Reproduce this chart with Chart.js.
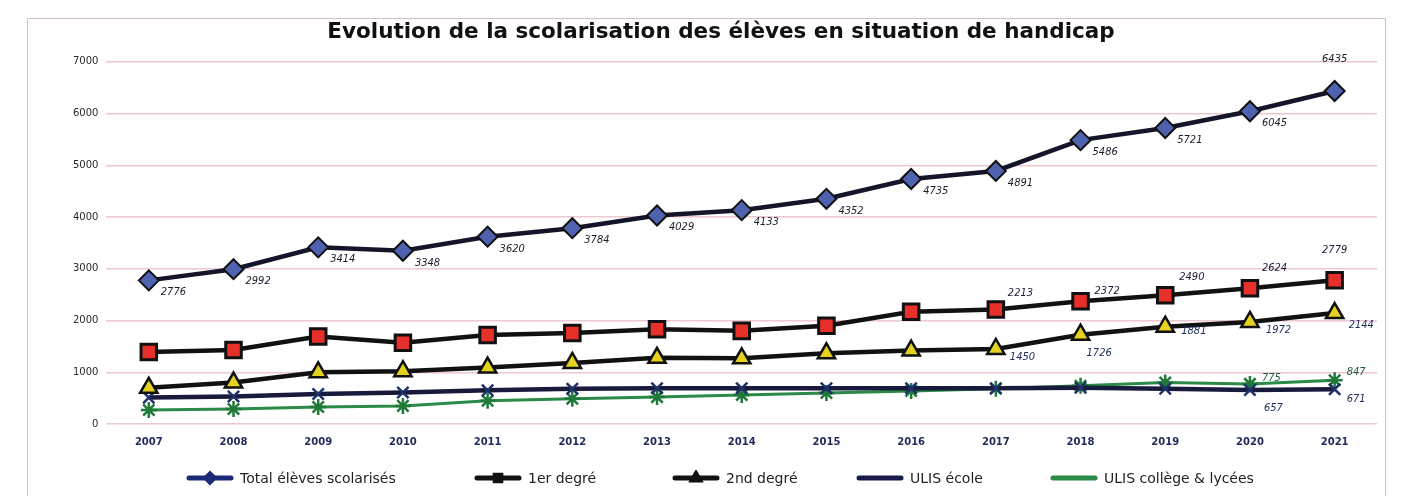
<!DOCTYPE html>
<html lang="fr">
<head>
<meta charset="utf-8">
<script src="https://cdn.jsdelivr.net/npm/chart.js@4/dist/chart.umd.min.js"></script>
<style>
  html, body { margin: 0; padding: 0; background: #fff; }
  #cadre { position: absolute; left: 27px; top: 18px; width: 1357px; height: 500px; border: 1px solid #d2c2c8; pointer-events: none; }
  #zone { position: absolute; left: 0; top: 0; width: 1405px; height: 496px; }
  #legende { position: absolute; left: 0; top: 470px; width: 1405px; height: 18px; font: 14px "DejaVu Sans", sans-serif; color: #222; }
  #legende .item { position: absolute; top: 0; display: flex; align-items: center; white-space: nowrap; }
  #legende canvas { margin-right: 6px; }
</style>
</head>
<body>
<div id="zone"><canvas id="chartScolarisation"></canvas></div>
<div id="legende"></div>
<div id="cadre"></div>
<script>
// ── Données ────
const ANNEES = ['2007', '2008', '2009', '2010', '2011', '2012', '2013', '2014', '2015', '2016', '2017', '2018', '2019', '2020', '2021'];
const TOTAL = [2776, 2992, 3414, 3348, 3620, 3784, 4029, 4133, 4352, 4735, 4891, 5486, 5721, 6045, 6435];
const PREMIER_DEGRE = [1390, 1430, 1690, 1570, 1720, 1760, 1830, 1800, 1900, 2170, 2213, 2372, 2490, 2624, 2779];
const SECOND_DEGRE = [700, 800, 1000, 1020, 1090, 1180, 1280, 1270, 1365, 1420, 1450, 1726, 1881, 1972, 2144];
const ULIS_ECOLE = [510, 530, 580, 610, 650, 680, 690, 690, 690, 690, 690, 700, 680, 657, 671];
const ULIS_COLLEGE = [270, 290, 330, 350, 450, 490, 520, 560, 600, 640, 680, 740, 800, 775, 847];
const GRADUATIONS = [0, 1000, 2000, 3000, 4000, 5000, 6000, 7000];

const TITRE = 'Evolution de la scolarisation des élèves en situation de handicap';

// ── Icônes de légende (trait + marqueur) ────
function icone(trait, fond, bord, style) {
    const c = document.createElement('canvas');
    c.width = 48; c.height = 16;
    const g = c.getContext('2d');
    g.strokeStyle = trait;
    g.lineWidth = 5;
    g.lineCap = 'round';
    g.beginPath(); g.moveTo(3, 8); g.lineTo(45, 8); g.stroke();
    if (style) {
        g.fillStyle = fond;
        g.strokeStyle = bord;
        Chart.helpers.drawPoint(g, { pointStyle: style, radius: 4, borderWidth: 1.5 }, 24, 8);
    }
    return c;
}

// ── Étiquettes de valeurs ────
const etiquettes = {
    id: 'etiquettes',
    afterDatasetsDraw(chart) {
        const ctx = chart.ctx;
        chart.data.datasets.forEach((ds, i) => {
            const e = ds.etiquettes;
            if (!e) return;
            const meta = chart.getDatasetMeta(i);
            ctx.save();
            ctx.font = 'italic 11px "DejaVu Sans Condensed", "DejaVu Sans", sans-serif';
            ctx.fillStyle = e.couleur;
            ctx.textBaseline = 'middle';
            e.points.forEach(p => {
                const pt = meta.data[p.i];
                ctx.textAlign = p.align || 'left';
                ctx.fillText(ds.data[p.i], pt.x + p.dx, pt.y + p.dy);
            });
            ctx.restore();
        });
    }
};

const TOUS = ANNEES.map((a, i) => ({ i, dx: 12, dy: 12 }));
TOUS[TOUS.length - 1] = { i: ANNEES.length - 1, dx: 0, dy: -32, align: 'center' };

const series = [
    {
        label: 'Total élèves scolarisés',
        data: TOTAL,
        borderColor: '#15152a',
        borderWidth: 4.5,
        pointStyle: 'rectRot',
        pointRadius: 10,
        pointBackgroundColor: '#4f62b0',
        pointBorderColor: '#111',
        pointBorderWidth: 2,
        legendIcone: icone('#1c2a78', '#4f62b0', '#1c2a78', 'rectRot'),
        legendX: 186,
        etiquettes: { couleur: '#1a1a2a', points: TOUS }
    },
    {
        label: '1er degré',
        data: PREMIER_DEGRE,
        borderColor: '#111',
        borderWidth: 4.5,
        pointStyle: 'rect',
        pointRadius: 11,
        pointBackgroundColor: '#e8302a',
        pointBorderColor: '#111',
        pointBorderWidth: 3,
        legendIcone: icone('#111', '#e8302a', '#111', 'rect'),
        legendX: 474,
        etiquettes: {
            couleur: '#1a1a3a',
            points: [
                { i: 10, dx: 12, dy: -16 },
                { i: 11, dx: 14, dy: -10 },
                { i: 12, dx: 14, dy: -18 },
                { i: 13, dx: 12, dy: -20 },
                { i: 14, dx: 0, dy: -30, align: 'center' }
            ]
        }
    },
    {
        label: '2nd degré',
        data: SECOND_DEGRE,
        borderColor: '#111',
        borderWidth: 4.5,
        pointStyle: 'triangle',
        pointRadius: 10,
        pointBackgroundColor: '#e4d21e',
        pointBorderColor: '#111',
        pointBorderWidth: 2.5,
        legendIcone: icone('#111', '#e4d21e', '#111', 'triangle'),
        legendX: 672,
        etiquettes: {
            couleur: '#1a2a5a',
            points: [
                { i: 10, dx: 14, dy: 8 },
                { i: 11, dx: 6, dy: 18 },
                { i: 12, dx: 16, dy: 4 },
                { i: 13, dx: 16, dy: 8 },
                { i: 14, dx: 14, dy: 12 }
            ]
        }
    },
    {
        label: 'ULIS école',
        data: ULIS_ECOLE,
        borderColor: '#181a3c',
        borderWidth: 4.5,
        pointStyle: 'crossRot',
        pointRadius: 8,
        pointBorderColor: '#20306a',
        pointBorderWidth: 2.5,
        legendIcone: icone('#181a4c', '#181a4c', '#181a4c', null),
        legendX: 856,
        etiquettes: {
            couleur: '#1a2a5a',
            points: [
                { i: 13, dx: 14, dy: 18 },
                { i: 14, dx: 12, dy: 10 }
            ]
        }
    },
    {
        label: 'ULIS collège & lycées',
        data: ULIS_COLLEGE,
        borderColor: '#2a8a46',
        borderWidth: 3,
        pointStyle: 'star',
        pointRadius: 8,
        pointBorderColor: '#1f7a3a',
        pointBorderWidth: 2.5,
        legendIcone: icone('#2a8a46', '#2a8a46', '#2a8a46', null),
        legendX: 1050,
        etiquettes: {
            couleur: '#1f5a3a',
            points: [
                { i: 13, dx: 12, dy: -6 },
                { i: 14, dx: 12, dy: -8 }
            ]
        }
    }
];

// ── Légende HTML ────
const legende = document.getElementById('legende');
series.forEach(s => {
    const item = document.createElement('div');
    item.className = 'item';
    item.style.left = s.legendX + 'px';
    item.appendChild(s.legendIcone);
    const span = document.createElement('span');
    span.textContent = s.label;
    item.appendChild(span);
    legende.appendChild(item);
});

new Chart(document.getElementById('chartScolarisation'), {
    type: 'line',
    data: { labels: ANNEES, datasets: series },
    options: {
        responsive: true,
        maintainAspectRatio: false,
        animation: false,
        layout: { padding: { left: 65, right: 28, top: 0, bottom: 44 } },
        elements: { line: { tension: 0 } },
        plugins: {
            title: {
                display: true,
                text: TITRE,
                color: '#111',
                font: { family: '"DejaVu Sans", sans-serif', size: 21.5, weight: 'bold' },
                padding: { top: 20, bottom: 16 }
            },
            legend: { display: false },
            tooltip: { enabled: false }
        },
        scales: {
            x: {
                offset: true,
                grid: { display: false },
                border: { display: false },
                ticks: { color: '#1f2a5a', font: { family: '"DejaVu Sans", sans-serif', size: 10, weight: 'bold' }, padding: 4 }
            },
            y: {
                min: 0,
                max: 7000,
                afterBuildTicks: axis => { axis.ticks = GRADUATIONS.map(v => ({ value: v })); },
                grid: { color: '#ecc8d2', lineWidth: 1.5, drawTicks: false },
                border: { display: false },
                ticks: { color: '#2a2a2a', font: { family: '"DejaVu Sans", sans-serif', size: 10 }, padding: 8, callback: v => v }
            }
        }
    },
    plugins: [etiquettes]
});
</script>
</body>
</html>
